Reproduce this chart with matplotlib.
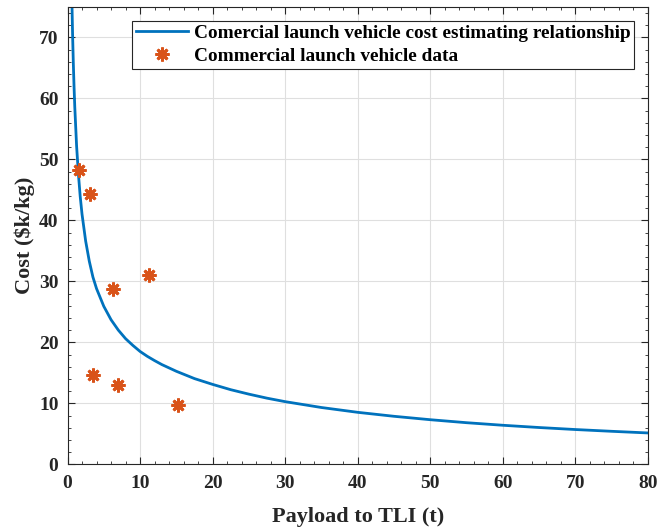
import matplotlib
matplotlib.use("Agg")
import matplotlib.pyplot as plt
from matplotlib.ticker import MultipleLocator

# CER curve
cer_payload = [0.55, 0.6, 0.7, 0.8, 0.9, 1.0, 1.25, 1.5, 1.75, 2, 2.5, 3, 3.5, 4, 5, 6, 7, 8, 9,
               10, 11, 12, 13, 14, 15, 17.5, 20, 22.5, 25, 27.5, 30, 35, 40, 45, 50, 55, 60,
               65, 70, 75, 80]
cer_cost = [79.7, 76.2, 70.4, 65.75, 61.9, 58.6, 52.2, 47.6, 43.9, 41.0, 36.6, 33.3, 30.7, 28.8,
            25.9, 23.7, 22.0, 20.6, 19.5, 18.5, 17.7, 17.0, 16.35, 15.8, 15.25, 14.05, 13.1,
            12.23, 11.5, 10.84, 10.27, 9.31, 8.52, 7.87, 7.31, 6.82, 6.40, 6.03, 5.70, 5.41, 5.14]

# Commercial launch vehicle data
data_payload = [1.65, 3.14, 6.22, 11.27, 3.47, 6.91, 15.27]
data_cost = [48.2, 44.3, 28.7, 31.0, 14.6, 13.05, 9.7]

x_ticks = [0, 10, 20, 30, 40, 50, 60, 70, 80]
y_ticks = [0, 10, 20, 30, 40, 50, 60, 70]

plt.rcParams['font.family'] = ['Liberation Serif', 'DejaVu Serif']
plt.rcParams['font.weight'] = 'bold'

fig = plt.figure(figsize=(6.6, 5.29), dpi=100)
ax = fig.add_axes([0.1023, 0.1223, 0.8795, 0.8648])

ax.plot(cer_payload, cer_cost, color='#0072BD', lw=2.0,
        label='Comercial launch vehicle cost estimating relationship')
ax.plot(data_payload, data_cost, linestyle='none', marker=(8, 2, 0), markersize=10,
        markeredgewidth=2.0, color='#D95319', label='Commercial launch vehicle data')

ax.set_xlim(0, 80)
ax.set_ylim(0, 75)
ax.set_xticks(x_ticks)
ax.set_yticks(y_ticks)
ax.xaxis.set_minor_locator(MultipleLocator(2))
ax.yaxis.set_minor_locator(MultipleLocator(2))
ax.tick_params(which='both', direction='in', top=True, right=True, colors='#262626')
ax.tick_params(which='major', length=5, width=0.8, labelsize=14)
ax.tick_params(which='minor', length=2.5, width=0.6)
ax.tick_params(axis='x', which='major', pad=7.5)
ax.tick_params(axis='y', which='major', pad=6.5)
for lab in ax.get_xticklabels() + ax.get_yticklabels():
    lab.set_fontweight('bold')
    lab.set_color('#262626')
ax.grid(True, which='major', color='#dfdfdf', lw=0.8)
ax.set_axisbelow(True)
for s in ax.spines.values():
    s.set_color('#262626')
    s.set_linewidth(0.8)

ax.set_xlabel('Payload to TLI (t)', fontsize=16, fontweight='bold', color='#262626', labelpad=11)
ax.set_ylabel('Cost ($k/kg)', fontsize=16, fontweight='bold', color='#262626', labelpad=2.5)

leg = ax.legend(loc='upper right', prop={'weight': 'bold', 'size': 13.85},
                fancybox=False, framealpha=1, edgecolor='#262626',
                handlelength=2.72, borderpad=0.2, labelspacing=0.3,
                handletextpad=0.28, borderaxespad=0.72)
leg.get_frame().set_linewidth(0.8)

fig.savefig('out.png', dpi=100)
